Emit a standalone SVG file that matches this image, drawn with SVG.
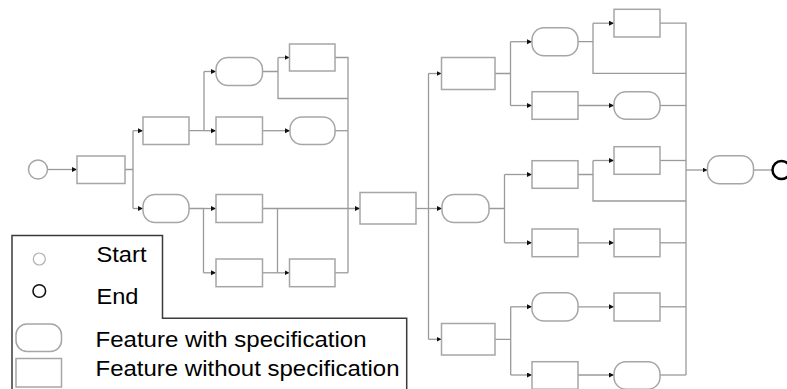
<svg xmlns="http://www.w3.org/2000/svg" width="787" height="389" viewBox="0 0 787 389">
<style>
.n{fill:#fff;stroke:#a6a6a6;stroke-width:1.5}
.c path{fill:none;stroke:#9a9a9a;stroke-width:1.3}
.a{marker-end:url(#arr)}
.t{font-family:"Liberation Sans",Arial,sans-serif;font-size:21.5px;fill:#000}
</style>
<defs>
<marker id="arr" markerUnits="userSpaceOnUse" markerWidth="6" markerHeight="6" refX="5" refY="2.5" orient="auto">
<path d="M0,0 L5,2.5 L0,5 z" fill="#111"/>
</marker>
</defs>
<rect width="787" height="389" fill="#fff"/>
<g class="c" id="connectors">
<path class="a" d="M47.5,169.5 H77"/>
<path d="M125,169.5 H133 M133,130.7 V208.5"/>
<path class="a" d="M133,130.7 H143"/>
<path class="a" d="M133,208.5 H143"/>
<path d="M189,130.7 H204 M204,71.5 V130.7"/>
<path class="a" d="M204,71.5 H216"/>
<path class="a" d="M204,130.7 H216"/>
<path d="M262.5,71.5 H278 M278,57.5 V98.5 H348"/>
<path class="a" d="M278,57.5 H289.5"/>
<path d="M335,57.5 H348 V272.8"/>
<path class="a" d="M262.5,130.7 H290"/>
<path d="M335,130.7 H348"/>
<path d="M189,208.5 H203.5 V272.8"/>
<path class="a" d="M203.5,208.5 H216"/>
<path class="a" d="M203.5,272.8 H216"/>
<path class="a" d="M262.5,208.5 H360"/>
<path d="M277.5,208.5 V272.8"/>
<path class="a" d="M262.5,272.8 H289.5"/>
<path d="M335,272.8 H348"/>
<path class="a" d="M416,208.5 H442"/>
<path d="M428.5,73.5 V339.3"/>
<path class="a" d="M428.5,73.5 H441.5"/>
<path class="a" d="M428.5,339.3 H441.5"/>
<path d="M495,73.5 H510.5 M510.5,41.7 V105.5"/>
<path class="a" d="M510.5,41.7 H532"/>
<path class="a" d="M510.5,105.5 H532"/>
<path d="M578,41.7 H593 M593,23.2 V73.3 H686"/>
<path class="a" d="M593,23.2 H614"/>
<path d="M660,23.2 H686 V375"/>
<path class="a" d="M578,105.5 H614"/>
<path d="M660,105.5 H686"/>
<path d="M489,208.5 H504.5 M504.5,174.5 V242.8"/>
<path class="a" d="M504.5,174.5 H532"/>
<path class="a" d="M504.5,242.8 H532"/>
<path d="M578,174.5 H593 M593,160.5 V201 H686"/>
<path class="a" d="M593,160.5 H614"/>
<path d="M660,160.5 H686"/>
<path class="a" d="M578,242.8 H614"/>
<path d="M660,242.8 H686"/>
<path d="M495,339.3 H510.7 M510.7,306.8 V375"/>
<path class="a" d="M510.7,306.8 H532"/>
<path class="a" d="M510.7,375 H532"/>
<path class="a" d="M578,306.8 H614"/>
<path d="M660,306.8 H686"/>
<path class="a" d="M578,375 H614"/>
<path d="M660,375 H686"/>
<path class="a" d="M686,170 H707.5"/>
<path d="M753.5,170 H772"/>
</g>
<g id="start"><circle class="n" cx="38" cy="169.5" r="9.5"/></g>
<g id="n1"><rect class="n" x="77" y="156" width="48" height="27.5"/></g>
<g id="n2"><rect class="n" x="143" y="117" width="46" height="27.5"/></g>
<g id="n3"><rect class="n" x="143" y="194.5" width="46" height="28" rx="12"/></g>
<g id="n4"><rect class="n" x="216" y="57.5" width="46.5" height="28" rx="12"/></g>
<g id="n5"><rect class="n" x="216" y="117" width="46.5" height="27.5"/></g>
<g id="n6"><rect class="n" x="289.5" y="44" width="45.5" height="27"/></g>
<g id="n7"><rect class="n" x="290" y="117" width="45" height="27.5" rx="12"/></g>
<g id="n8"><rect class="n" x="216" y="194.5" width="46.5" height="28"/></g>
<g id="n9"><rect class="n" x="216" y="259" width="46.5" height="27.7"/></g>
<g id="n10"><rect class="n" x="289.5" y="259" width="45.5" height="27.7"/></g>
<g id="m"><rect class="n" x="360" y="192.5" width="56" height="31.5"/></g>
<g id="r1"><rect class="n" x="442" y="194.5" width="47" height="28" rx="12"/></g>
<g id="r2"><rect class="n" x="441.5" y="57.5" width="53.5" height="32"/></g>
<g id="r3"><rect class="n" x="441.5" y="323.5" width="53.5" height="31.5"/></g>
<g id="r4"><rect class="n" x="532" y="27.7" width="46" height="28" rx="12"/></g>
<g id="r5"><rect class="n" x="532" y="91.7" width="46" height="27.6"/></g>
<g id="r6"><rect class="n" x="614" y="9.3" width="46" height="27.7"/></g>
<g id="r7"><rect class="n" x="614" y="91.7" width="46" height="27.6" rx="12"/></g>
<g id="r8"><rect class="n" x="532" y="160.7" width="46" height="27.6"/></g>
<g id="r9"><rect class="n" x="532" y="229" width="46" height="27.7"/></g>
<g id="r10"><rect class="n" x="614" y="146.7" width="46" height="27.6"/></g>
<g id="r11"><rect class="n" x="614" y="229" width="46" height="27.7"/></g>
<g id="r12"><rect class="n" x="532" y="292.7" width="46" height="28.3" rx="12"/></g>
<g id="r13"><rect class="n" x="532" y="361.7" width="46" height="27.5"/></g>
<g id="r14"><rect class="n" x="614" y="293" width="46" height="28"/></g>
<g id="r15"><rect class="n" x="614" y="361.7" width="46" height="27.5" rx="12"/></g>
<g id="r16"><rect class="n" x="707.5" y="155.7" width="46" height="28" rx="12"/></g>
<g id="end"><circle cx="781.5" cy="170" r="9" fill="#fff" stroke="#000" stroke-width="2.5"/></g>
<g id="legend">
<path d="M12,235.5 H162.5 V318.3 H406.7 V395 H12 Z" fill="#fff" stroke="#3a3a3a" stroke-width="1.5"/>
<circle cx="39.3" cy="259" r="6" fill="#fff" stroke="#b0b0b0" stroke-width="1.2"/>
<circle cx="39.3" cy="291" r="6.3" fill="#fff" stroke="#111" stroke-width="1.6"/>
<rect class="n" x="16" y="324" width="45.5" height="27.5" rx="11"/>
<rect class="n" x="16" y="358.5" width="45.5" height="28.5"/>
<text class="t" x="96.5" y="262.3" textLength="50" lengthAdjust="spacingAndGlyphs">Start</text>
<text class="t" x="96.5" y="303.5" textLength="42" lengthAdjust="spacingAndGlyphs">End</text>
<text class="t" x="95.5" y="347" textLength="271" lengthAdjust="spacingAndGlyphs">Feature with specification</text>
<text class="t" x="95.5" y="375.7" textLength="304" lengthAdjust="spacingAndGlyphs">Feature without specification</text>
</g>
</svg>
